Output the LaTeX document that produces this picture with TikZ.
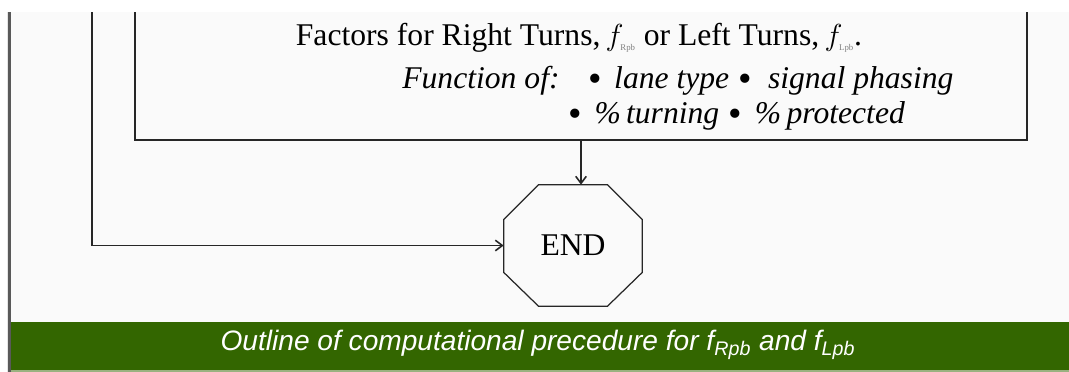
\documentclass[tikz,border=0pt]{standalone}
\usepackage{amsmath}
\usepackage{fontspec}
\setmainfont{Liberation Serif}
\newfontfamily\capfont{Liberation Sans}
\usetikzlibrary{arrows.meta}
\definecolor{capgreen}{HTML}{336600}
\definecolor{paper}{HTML}{FAFAFA}
\newcommand{\bigbul}{\raisebox{-0.25ex}{\fontsize{22}{22}\selectfont\textbullet}}

\begin{document}
\begin{tikzpicture}[x=0.02cm, y=-0.02cm, >={Straight Barb[length=4pt,width=6pt]},
  every node/.style={font=\fontsize{18}{21}\selectfont},
  line/.style={line width=0.9pt, black!85}]
  % Rahmen og bakgrunn
  \useasboundingbox (0,0) rectangle (1069,372);
  \fill[white] (0,0) rectangle (1069,372);
  \fill[paper] (11,12) rectangle (1069,322);
  \draw[gray!20, line width=0.6pt] (7.5,12) -- (7.5,372);
  \draw[black!65, line width=1.2pt] (9.5,12) -- (9.5,372);
  % Klippet ramme rundt faktorboksen
  \begin{scope}
    \clip (0,12) rectangle (1069,372);
    \node[line, draw, minimum width=17.84cm, minimum height=3.6cm] (adj) at (581,50) {};
    \coordinate (loop) at (92,0);
  \end{scope}
  % Tekst i boksen
  \node[anchor=base] (l1) at (579,46)
    {Factors for Right Turns,\,$f_{\text{\tiny\color{gray}Rpb}}$ or Left Turns,\,$f_{\text{\tiny\color{gray}Lpb}}$.};
  \node[anchor=base west, inner sep=0pt] (l2) at (402,88)
    {\textit{Function of:}\hspace{0.9em}\bigbul\hspace{0.4em}\textit{lane type}\hspace{0.3em}\bigbul\hspace{0.5em}\textit{signal phasing}};
  \node[anchor=base west, inner sep=0pt] (l3) at (568,123)
    {\bigbul\hspace{0.4em}\textit{\%\,turning}\hspace{0.3em}\bigbul\hspace{0.4em}\textit{\%\,protected}};
  % END-oktagon
  \node[minimum width=2.76cm, minimum height=2.42cm, inner sep=0pt] (end) at (573,245.5) {END};
  \draw[line, line width=0.7pt]
    ([xshift=0.7cm]end.north west) -- ([xshift=-0.7cm]end.north east)
    -- ([yshift=-0.7cm]end.north east) -- ([yshift=0.68cm]end.south east)
    -- ([xshift=-0.7cm]end.south east) -- ([xshift=0.7cm]end.south west)
    -- ([yshift=0.68cm]end.south west) -- ([yshift=-0.7cm]end.north west) -- cycle;
  % Piler
  \begin{scope}
    \clip (0,12) rectangle (1069,372);
    \draw[line, ->] (loop) |- (end.west);
  \end{scope}
  \draw[line, ->] (adj.south) -- (adj.south |- end.north);
  % Bildetekst
  \fill[capgreen] (11,322) rectangle (1069,370);
  \fill[capgreen!50!white] (11,370) rectangle (1069,372);
  \node[font=\capfont\itshape\fontsize{16}{19}\selectfont, text=white] (cap) at (538,345)
    {Outline of computational precedure for f\textsubscript{Rpb} and f\textsubscript{Lpb}};
\end{tikzpicture}
\end{document}
